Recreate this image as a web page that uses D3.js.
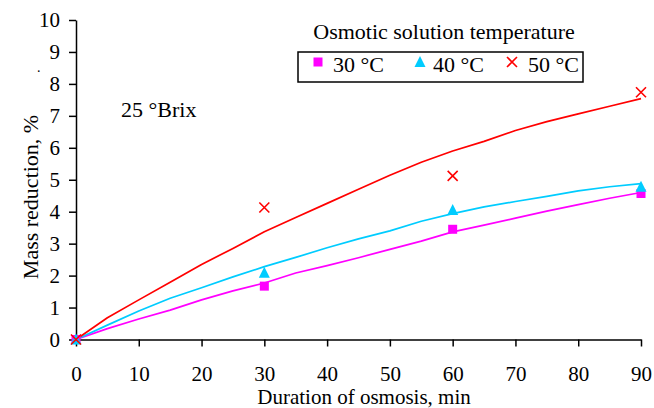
<!DOCTYPE html>
<html>
<head>
<meta charset="utf-8">
<script src="https://cdn.jsdelivr.net/npm/d3@7"></script>
<style>
  html, body { margin: 0; padding: 0; background: #fff; }
  svg { display: block; font-family: "Liberation Serif", "Times New Roman", serif; }
</style>
</head>
<body>
<svg width="654" height="408"></svg>
<script>
// model curves, read every 5 min
var times = [0, 5, 10, 15, 20, 25, 30, 35, 40, 45, 50, 55, 60, 65, 70, 75, 80, 85, 90];
var fit30 = [0, 0.34, 0.64, 0.92, 1.24, 1.52, 1.77, 2.08, 2.31, 2.56, 2.82, 3.08, 3.37, 3.58, 3.80, 4.02, 4.22, 4.42, 4.60];
var fit40 = [0, 0.45, 0.89, 1.29, 1.62, 1.96, 2.28, 2.57, 2.87, 3.15, 3.40, 3.70, 3.94, 4.15, 4.32, 4.48, 4.65, 4.78, 4.88];
var fit50 = [0, 0.68, 1.24, 1.79, 2.35, 2.85, 3.37, 3.82, 4.26, 4.70, 5.14, 5.55, 5.90, 6.20, 6.54, 6.82, 7.06, 7.30, 7.54];

// measured points
var obsTimes = [0, 30, 60, 90];
var obs30 = [0, 1.67, 3.45, 4.57];
var obs40 = [0, 2.09, 4.05, 4.78];
var obs50 = [0, 4.13, 5.12, 7.74];

var seriesNames = ["30 \u00B0C", "40 \u00B0C", "50 \u00B0C"];
var xTicks = [0, 10, 20, 30, 40, 50, 60, 70, 80, 90];
var yTicks = [0, 1, 2, 3, 4, 5, 6, 7, 8, 9, 10];

var colors = ["#ff00ff", "#00ccff", "#ff0000"];
var serif = "'Liberation Serif', 'Times New Roman', serif";

var svg = d3.select("svg");

var x = d3.scaleLinear().domain([0, 90]).range([76, 641]);
var y = d3.scaleLinear().domain([0, 10]).range([339.5, 20]);

var xAxis = svg.append("g")
  .attr("transform", "translate(0," + y(0) + ")")
  .call(d3.axisBottom(x).tickValues(xTicks).tickSize(7).tickSizeOuter(0).tickPadding(20));

var yAxis = svg.append("g")
  .attr("transform", "translate(" + x(0) + ",0)")
  .call(d3.axisLeft(y).tickValues(yTicks).tickSize(7).tickSizeOuter(0).tickPadding(9));

[xAxis, yAxis].forEach(function (ax) {
  ax.attr("font-family", serif).attr("font-size", 21);
  ax.selectAll("path, line").attr("stroke", "#000").attr("stroke-width", 1.5);
  ax.selectAll("text")
    .attr("fill", "#000")
    .style("font-family", serif)
    .style("font-size", "21px");
});

// axis titles
svg.append("text")
  .attr("x", 364)
  .attr("y", 404)
  .attr("text-anchor", "middle")
  .style("font-size", "21px")
  .text("Duration of osmosis,  min");

svg.append("text")
  .attr("transform", "translate(38,197) rotate(-90)")
  .attr("text-anchor", "middle")
  .style("font-size", "22px")
  .text("Mass reduction, %");

svg.append("text")
  .attr("x", 37)
  .attr("y", 72)
  .style("font-size", "14px")
  .text(".");

svg.append("text")
  .attr("x", 121)
  .attr("y", 117)
  .style("font-size", "22px")
  .text("25 \u00B0Brix");

// curves
var line = d3.line()
  .x(function (d) { return x(d[0]); })
  .y(function (d) { return y(d[1]); });

[fit30, fit40, fit50].forEach(function (vals, i) {
  svg.append("path")
    .datum(times.map(function (t, j) { return [t, vals[j]]; }))
    .attr("fill", "none")
    .attr("stroke", colors[i])
    .attr("stroke-width", 1.7)
    .attr("stroke-linejoin", "round")
    .attr("d", line);
});

// markers
function drawMarker(g, kind, cx, cy) {
  if (kind === 0) {
    g.append("rect")
      .attr("x", cx - 4.5).attr("y", cy - 4.5)
      .attr("width", 9).attr("height", 9)
      .attr("fill", colors[0]);
  } else if (kind === 1) {
    g.append("path")
      .attr("d", "M" + cx + "," + (cy - 6) + "L" + (cx + 5.5) + "," + (cy + 5) + "L" + (cx - 5.5) + "," + (cy + 5) + "Z")
      .attr("fill", colors[1]);
  } else {
    g.append("path")
      .attr("d", "M" + (cx - 5) + "," + (cy - 5) + "L" + (cx + 5) + "," + (cy + 5) +
        "M" + (cx + 5) + "," + (cy - 5) + "L" + (cx - 5) + "," + (cy + 5))
      .attr("stroke", colors[2])
      .attr("stroke-width", 1.6)
      .attr("fill", "none");
  }
}

var pts = svg.append("g");
[obs30, obs40, obs50].forEach(function (vals, i) {
  obsTimes.forEach(function (t, j) {
    drawMarker(pts, i, x(t), y(vals[j]));
  });
});

// legend
var legend = svg.append("g");
legend.append("text")
  .attr("x", 444)
  .attr("y", 39)
  .attr("text-anchor", "middle")
  .style("font-size", "22px")
  .text("Osmotic solution temperature");

legend.append("rect")
  .attr("x", 298).attr("y", 52)
  .attr("width", 285).attr("height", 30)
  .attr("fill", "#fff")
  .attr("stroke", "#000")
  .attr("stroke-width", 1.5);

var legX = [318, 420, 512];
var legTextX = [333, 433, 528];
seriesNames.forEach(function (name, i) {
  drawMarker(legend, i, legX[i], 62);
  legend.append("text")
    .attr("x", legTextX[i])
    .attr("y", 72)
    .style("font-size", "22px")
    .text(name);
});
</script>
</body>
</html>
